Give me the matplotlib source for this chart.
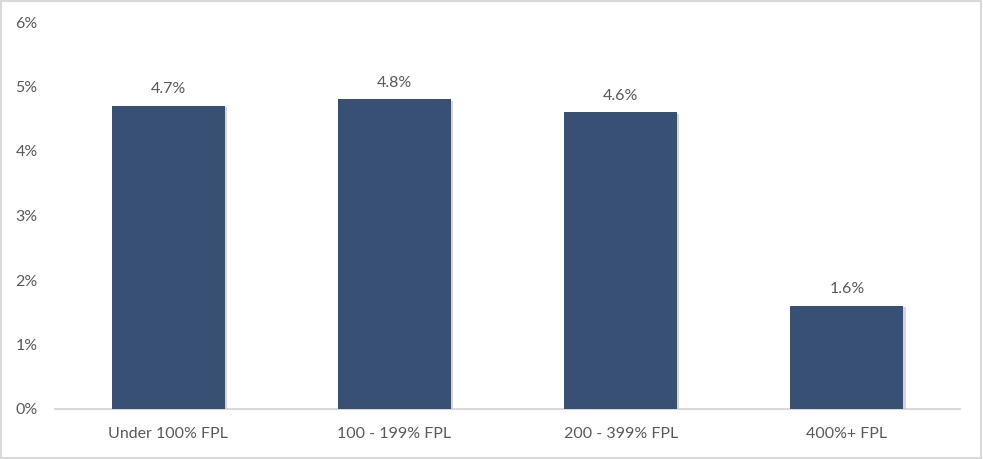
import matplotlib
matplotlib.use("Agg")
import matplotlib.pyplot as plt
from matplotlib.patches import Rectangle
import matplotlib.patheffects as pe

categories = ["Under 100% FPL", "100 - 199% FPL", "200 - 399% FPL", "400%+ FPL"]
values = [4.7, 4.8, 4.6, 1.6]
labels = ["4.7%", "4.8%", "4.6%", "1.6%"]
yticks = [0, 1, 2, 3, 4, 5, 6]
ytick_labels = ["0%", "1%", "2%", "3%", "4%", "5%", "6%"]

plt.rcParams['font.family'] = ['Lato', 'DejaVu Sans']
text_color = "#595959"
bar_color = "#375073"
fs = 11.5

fig = plt.figure(figsize=(9.83, 4.59), dpi=100)
ax = fig.add_axes([55/983, 50/459, 905/983, 387/459])

x = list(range(len(categories)))
bars = ax.bar(x, values, width=0.5, color=bar_color, zorder=3,
              path_effects=[pe.SimplePatchShadow(offset=(1.5, -1), shadow_rgbFace="#bbbbbb", alpha=0.6), pe.Normal()])
for xi, v, lab in zip(x, values, labels):
    ax.annotate(lab, (xi, v), xytext=(0, 7), textcoords="offset points",
                ha="center", va="bottom", fontsize=fs, color=text_color)

ax.set_xlim(-0.5, len(categories) - 0.5)
ax.set_ylim(0, 6)
ax.set_yticks(yticks)
ax.set_yticklabels(ytick_labels, fontsize=fs, color=text_color)
ax.set_xticks(x)
ax.set_xticklabels(categories, fontsize=fs, color=text_color)
ax.tick_params(axis="both", length=0)
ax.tick_params(axis="y", pad=12.5)
ax.tick_params(axis="x", pad=13)
for s in ["top", "right", "left"]:
    ax.spines[s].set_visible(False)
ax.spines["bottom"].set_color("#d9d9d9")
ax.spines["bottom"].set_linewidth(1.5)

fig.patches.append(Rectangle((0.001, 0.002), 0.997, 0.995, transform=fig.transFigure,
                             fill=False, edgecolor="#d9d9d9", linewidth=1.5))

fig.savefig("out.png", dpi=100)
